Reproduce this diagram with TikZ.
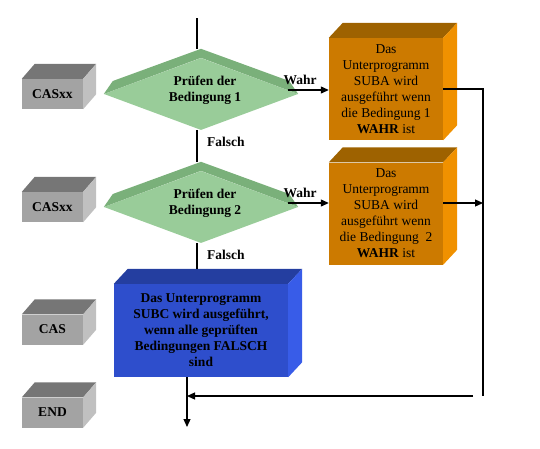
\documentclass[tikz,border=0pt]{standalone}
\usepackage{fontspec}
\setmainfont{Liberation Serif}
\usetikzlibrary{shapes.geometric,arrows.meta}
\definecolor{grnF}{RGB}{153,204,153}
\definecolor{grnB}{RGB}{122,176,122}
\definecolor{orF}{RGB}{204,122,0}
\definecolor{orT}{RGB}{158,98,0}
\definecolor{orS}{RGB}{240,145,0}
\definecolor{blF}{RGB}{46,78,204}
\definecolor{blT}{RGB}{36,62,160}
\definecolor{blS}{RGB}{56,92,232}
\definecolor{grF}{RGB}{163,163,163}
\definecolor{grT}{RGB}{118,118,118}
\definecolor{grS}{RGB}{192,192,192}
\newcommand\cubefaces[5]{%
  \fill[#2] (#1.north west) -- ++(#4,-#5) -- ([shift={(#4,-#5)}]#1.north east) -- (#1.north east) -- cycle;
  \fill[#3] (#1.north east) -- ++(#4,-#5) -- ([shift={(#4,-#5)}]#1.south east) -- (#1.south east) -- cycle;
}
\begin{document}
\begin{tikzpicture}[x=1pt,y=-1pt,
  font=\fontsize{13.5}{16}\selectfont,
  gbox/.style={rectangle,fill=grF,minimum width=61pt,minimum height=30pt,inner sep=0pt,font=\fontsize{13.5}{16}\selectfont\bfseries},
  obox/.style={rectangle,fill=orF,minimum width=114pt,minimum height=102pt,inner sep=0pt,align=center},
  bbox/.style={rectangle,fill=blF,minimum width=174pt,minimum height=93pt,inner sep=0pt,align=center,font=\fontsize{13.5}{16}\selectfont\bfseries},
  dia/.style={diamond,fill=grnF,minimum width=194pt,minimum height=72pt,inner sep=0pt},
  lbl/.style={font=\fontsize{13.5}{16}\selectfont\bfseries,inner sep=0pt},
  ln/.style={line width=1.2pt},
  arr/.style={-{Triangle[length=8pt,width=7pt]}}]
\useasboundingbox (0,0) rectangle (540,448);

% gray side boxes
\node[gbox] (c1) at (52.5,94) {CASxx};
\node[gbox] (c2) at (52.5,207) {CASxx};
\node[gbox] (c3) at (52.5,329.5) {CAS};
\node[gbox] (c4) at (52.5,412.5) {END};
\cubefaces{c1}{grT}{grS}{13}{15}
\cubefaces{c2}{grT}{grS}{13}{15}
\cubefaces{c3}{grT}{grS}{13}{15}
\cubefaces{c4}{grT}{grS}{13}{15}

% decision diamonds
\node[dia] (d1) at (201,94) {};
\node[dia] (d2) at (201,207) {};
\fill[grnB] (d1.west) -- ++(9,-13) -- ([yshift=9pt]d1.north) -- ([shift={(-9,-13)}]d1.east) -- (d1.east) -- (d1.north) -- cycle;
\fill[grnB] (d2.west) -- ++(9,-13) -- ([yshift=9pt]d2.north) -- ([shift={(-9,-13)}]d2.east) -- (d2.east) -- (d2.north) -- cycle;
\node[lbl,align=center] (t1) at (205,90) {Prüfen der\\Bedingung 1};
\node[lbl,align=center] (t2) at (205,203) {Prüfen der\\Bedingung 2};
\coordinate (d1t) at ([yshift=9pt]d1.north);
\coordinate (d2t) at ([yshift=9pt]d2.north);

% orange boxes
\node[obox] (o1) at (386,89) {Das\\Unterprogramm\\SUBA wird\\ausgeführt wenn\\die Bedingung 1\\\textbf{WAHR} ist};
\node[obox] (o2) at (386,213.5) {Das\\Unterprogramm\\SUBA wird\\ausgeführt wenn\\die Bedingung\ \ 2\\\textbf{WAHR} ist};
\cubefaces{o1}{orT}{orS}{14}{15}
\cubefaces{o2}{orT}{orS}{14}{15}

% blue box
\node[bbox] (b) at (201,330.5) {Das Unterprogramm\\SUBC wird ausgeführt,\\wenn alle geprüften\\Bedingungen FALSCH\\sind};
\cubefaces{b}{blT}{blS}{14}{15}
\coordinate (bt) at ([yshift=15pt]b.north);

% labels
\node[lbl] (wl1) at (300,80) {Wahr};
\node[lbl] (wl2) at (300,193) {Wahr};
\node[lbl,anchor=west] (f1) at (207,142) {Falsch};
\node[lbl,anchor=west] (f2) at (207,255) {Falsch};

% connectors
\coordinate (top) at (197,18);
\coordinate (w1) at ([shift={(-10pt,4pt)}]d1.east);
\coordinate (w2) at ([shift={(-10pt,4pt)}]d2.east);
\coordinate (rb) at (483,396);
\coordinate (rb2) at (473,396);
\coordinate (jn) at (187,396);
\coordinate (endp) at (187,427);

\draw[ln] (top) -- (top |- d1t);
\draw[ln] (d1.south -| top) -- (d2t -| top);
\draw[ln] (d2.south -| top) -- (bt -| top);
\draw[ln,arr] (w1) -- (w1 -| o1.west);
\draw[ln,arr] (w2) -- (w2 -| o2.west);
\draw[ln] (o1.east) -| (rb);
\draw[ln,arr] (o2.east |- w2) -- (w2 -| rb);
\draw[ln,arr] (rb2) -- (jn);
\draw[ln,arr] (b.south -| jn) -- (endp);
\end{tikzpicture}
\end{document}
